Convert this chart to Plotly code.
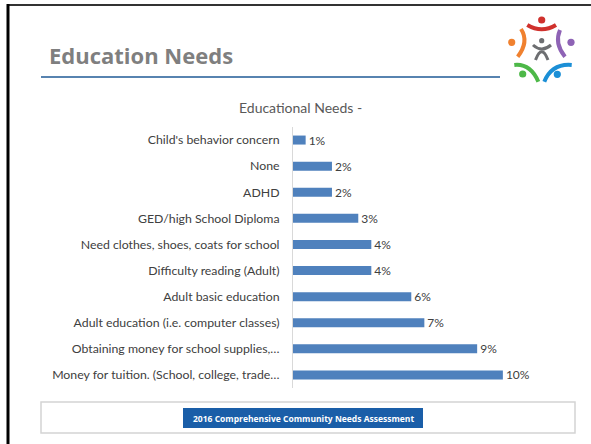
import plotly.graph_objects as go

# Educational needs survey results (top to bottom as shown)
categories = [
    "Child's behavior concern",
    "None",
    "ADHD",
    "GED/high School Diploma",
    "Need clothes, shoes, coats for school",
    "Difficulty reading (Adult)",
    "Adult basic education",
    "Adult education (i.e. computer classes)",
    "Obtaining money for school supplies,…",
    "Money for tuition. (School, college, trade…",
]
percent = [0.63, 1.94, 1.94, 3.25, 3.9, 3.9, 5.89, 6.54, 9.17, 10.45]

chart_title = "Educational Needs -"
slide_title = "Education Needs"
footer_text = "2016 Comprehensive Community Needs Assessment"

W, H = 591, 444
L, R, T, B = 293, 57, 127, 56
PW, PH = W - L - R, H - T - B


def px(x):
    return (x - L) / PW


def py(y):
    return (H - B - y) / PH


fig = go.Figure()

fig.add_trace(go.Bar(
    x=percent,
    y=categories,
    orientation='h',
    marker=dict(color='#4f81bd', line=dict(width=0)),
    texttemplate='%{x:.0f}%',
    textposition='outside',
    constraintext='none',
    textfont=dict(family='Lato', size=12, color='#404040'),
    cliponaxis=False,
    hoverinfo='skip',
))

shapes = []

# slide frame
shapes.append(dict(type='line', xref='paper', yref='paper',
                   x0=px(7), x1=px(591), y0=py(5), y1=py(5),
                   line=dict(color='#333333', width=2)))
shapes.append(dict(type='line', xref='paper', yref='paper',
                   x0=px(8), x1=px(8), y0=py(4), y1=py(444),
                   line=dict(color='#000000', width=3)))

# title underline
shapes.append(dict(type='line', xref='paper', yref='paper',
                   x0=px(41), x1=px(500), y0=py(77), y1=py(77),
                   line=dict(color='#1f5a96', width=1.5)))

# footer box + button
shapes.append(dict(type='rect', xref='paper', yref='paper',
                   x0=px(41), x1=px(575), y0=py(402), y1=py(433),
                   line=dict(color='#d4d4d4', width=1.5)))
shapes.append(dict(type='rect', xref='paper', yref='paper',
                   x0=px(183), x1=px(423), y0=py(408), y1=py(428),
                   fillcolor='#1a5ea8', line=dict(width=0)))


# logo: heads and arms
def arc(p0, c, p1, color, width=4):
    path = "M {},{} Q {},{} {},{}".format(px(p0[0]), py(p0[1]), px(c[0]), py(c[1]),
                                         px(p1[0]), py(p1[1]))
    return dict(type='path', xref='paper', yref='paper', path=path,
                line=dict(color=color, width=width))


def dot(cx, cy, r, color):
    return dict(type='circle', xref='paper', yref='paper',
                x0=px(cx - r), x1=px(cx + r), y0=py(cy + r), y1=py(cy - r),
                fillcolor=color, line=dict(width=0))


logo = [
    ('#d0312d', (541.7, 20), ((527.3, 25), (541.7, 33.6), (556, 25))),
    ('#f0812f', (511.7, 42.3), ((521, 29), (529.3, 41.8), (517.7, 56.7))),
    ('#8e63b5', (571, 42.3), ((560, 30), (554.1, 43.3), (565, 56.7))),
    ('#4db848', (522.7, 74), ((514.3, 65), (530.3, 63.3), (538.3, 81.7))),
    ('#1b8fd6', (557.3, 74.3), ((544.3, 81.7), (552, 63.3), (571.7, 65))),
]
for color, head, (a, c, b) in logo:
    shapes.append(arc(a, c, b, color))
    shapes.append(dot(head[0], head[1], 3.6, color))

shapes.append(dot(541.7, 40.7, 2.6, '#6d6e71'))
shapes.append(arc((533, 45), (541.7, 53), (551, 45), '#6d6e71', 3))
shapes.append(arc((535.5, 60), (541.7, 43.4), (548, 60), '#6d6e71', 3))

annotations = [
    dict(text=slide_title, xref='paper', yref='paper', x=px(47), y=py(55),
         xanchor='left', yanchor='middle', showarrow=False,
         font=dict(family='Open Sans', size=22, color='#7f7f7f', weight='bold')),
    dict(text=chart_title, xref='paper', yref='paper', x=px(300), y=py(107),
         xanchor='center', yanchor='middle', showarrow=False,
         font=dict(family='Lato', size=14, color='#595959')),
    dict(text=footer_text, xref='paper', yref='paper', x=px(303), y=py(418),
         xanchor='center', yanchor='middle', showarrow=False,
         font=dict(family='Open Sans', size=8.5, color='#ffffff', weight='bold')),
]

fig.update_layout(
    width=W,
    height=H,
    margin=dict(l=L, r=R, t=T, b=B, autoexpand=False),
    paper_bgcolor='white',
    plot_bgcolor='white',
    showlegend=False,
    bargap=0.655,
    shapes=shapes,
    annotations=annotations,
    xaxis=dict(range=[0, 12], visible=False, fixedrange=True),
    yaxis=dict(
        autorange='reversed',
        showline=True,
        linecolor='#d9d9d9',
        linewidth=1,
        showgrid=False,
        zeroline=False,
        ticks='',
        ticklabelstandoff=10,
        tickfont=dict(family='Lato', size=12.3, color='#404040'),
    ),
)

# drop the default page margin and scrollbars so the figure sits at the window origin
page_css = ("document.head.insertAdjacentHTML('beforeend', '<style>"
            "html,body{margin:0;padding:0;overflow:hidden;scrollbar-width:none}"
            "::-webkit-scrollbar{display:none;width:0;height:0}</style>');")
fig.write_html("out.html", config={'displayModeBar': False}, post_script=page_css)
